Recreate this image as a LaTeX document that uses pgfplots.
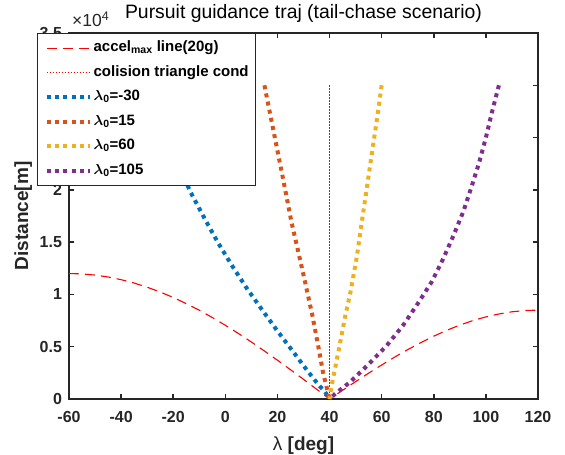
\documentclass[border=0pt]{standalone}
\usepackage{fontspec}
\setmainfont{Liberation Sans}
\usepackage{amsmath}
\usepackage{pgfplots}
\pgfplotsset{compat=1.18}
\definecolor{mblue}{rgb}{0,0.447,0.741}
\definecolor{morange}{rgb}{0.85,0.325,0.098}
\definecolor{myellow}{rgb}{0.929,0.694,0.125}
\definecolor{mpurple}{rgb}{0.494,0.184,0.556}
\definecolor{axgray}{rgb}{0.15,0.15,0.15}
\definecolor{mred}{rgb}{1,0,0}
\begin{document}
\begin{tikzpicture}
\begin{axis}[
  name=ax,
  scale only axis, width=469pt, height=366pt,
  at={(0,0)}, anchor=south west,
  xmin=-60, xmax=120, ymin=0, ymax=3.5,
  xtick={-60,-40,-20,0,20,40,60,80,100,120},
  ytick={0,0.5,1,1.5,2,2.5,3,3.5},
  tick align=inside, major tick length=5pt,
  axis line style={line width=1.5pt, axgray},
  every tick/.style={line width=1.5pt, axgray},
  ticklabel style={font=\fontsize{16}{16}\selectfont\bfseries, text=axgray},
  xticklabel style={yshift=-8.5pt},
  yticklabel style={xshift=-3.5pt},
  /pgf/number format/assume math mode=true,
  title={Pursuit guidance traj (tail-chase scenario)},
  title style={font=\fontsize{19.4}{19.4}\selectfont, text=black, anchor=base, at={(axis description cs:0.5,1)}, yshift=9pt},
  xlabel={{\mdseries λ} [deg]},
  ylabel={Distance[m]},
  xlabel style={font=\fontsize{19}{19}\selectfont\bfseries, text=axgray, at={(axis description cs:0.5,-0.1284)}, anchor=center},
  ylabel style={font=\fontsize{19}{19}\selectfont\bfseries, text=axgray, at={(axis description cs:-0.0974,0.5)}, anchor=center},
  legend style={at={(axis description cs:-0.0682,1)}, anchor=north west,
    draw=axgray, line width=1.2pt, fill=white,
    inner xsep=7pt, inner ysep=7pt, row sep=9.5pt, column sep=2pt,
    font=\fontsize{15}{15}\selectfont\bfseries,
    nodes={inner sep=0pt, text height=11pt, text depth=4pt},
    cells={anchor=west}},
  legend image code/.code={\draw[#1] (0pt,0pt) -- (43pt,0pt);},
]
\addplot[draw=mred, line width=1.1pt, dash pattern=on 10pt off 6pt] coordinates {
(-60,1.200) (-55,1.196) (-50,1.185) (-45,1.167) (-40,1.141) (-35,1.109) (-30,1.069)
(-25,1.023) (-20,0.971) (-15,0.912) (-10,0.849) (-5,0.779) (0,0.705) (5,0.627)
(10,0.545) (15,0.459) (20,0.371) (25,0.280) (30,0.188) (35,0.094) (40,0)
(45,0.083) (50,0.166) (55,0.247) (60,0.325) (65,0.401) (70,0.472) (75,0.539)
(80,0.601) (85,0.657) (90,0.707) (95,0.750) (100,0.785) (105,0.813) (110,0.834)
(115,0.846) (120,0.850)};
\addlegendentry{accel\textsubscript{max} line(20g)}
\addplot[draw=mred, line width=1.2pt, dash pattern=on 1.5pt off 1.5pt] coordinates {(40,0) (40,3.0)};
\addlegendentry{colision triangle cond}
\addplot[draw=mblue, line width=4pt, dash pattern=on 4pt off 4.3pt] coordinates {
(-30,3.0) (-25,2.68) (-20,2.37) (-13.6,1.99) (-7.4,1.70) (-2.7,1.49) (2.7,1.27)
(8.2,1.06) (13.9,0.86) (19.7,0.66) (25.8,0.46) (31.8,0.26) (35.8,0.134) (38.2,0.07) (40,0)};
\addlegendentry{$\boldsymbol{\lambda}$\textsubscript{0}=-30}
\addplot[draw=morange, line width=4pt, dash pattern=on 4pt off 4.3pt] coordinates {
(15,3.0) (18.6,2.55) (22.2,2.10) (25.4,1.69) (27.7,1.44) (30.6,1.12) (33.4,0.80)
(35.7,0.50) (37.6,0.24) (38.9,0.11) (40,0)};
\addlegendentry{$\boldsymbol{\lambda}$\textsubscript{0}=15}
\addplot[draw=myellow, line width=4pt, dash pattern=on 4pt off 4.3pt] coordinates {
(60,3.0) (58.1,2.66) (56.2,2.34) (54.2,2.00) (52.3,1.68) (50.4,1.35) (48.1,1.03)
(45.9,0.78) (44.0,0.53) (42.1,0.29) (40.8,0.13) (40,0)};
\addlegendentry{$\boldsymbol{\lambda}$\textsubscript{0}=60}
\addplot[draw=mpurple, line width=4pt, dash pattern=on 4pt off 4.3pt] coordinates {
(105,3.0) (102.4,2.75) (100.0,2.50) (97.4,2.26) (94.5,2.03) (91.3,1.79) (87.5,1.56)
(83.6,1.34) (79.2,1.12) (73.8,0.91) (68.1,0.70) (61.9,0.51) (54.9,0.33) (47.8,0.16)
(42.4,0.055) (40,0)};
\addlegendentry{$\boldsymbol{\lambda}$\textsubscript{0}=105}
\end{axis}
\node[anchor=base west, font=\fontsize{17.5}{17.5}\selectfont, text=axgray, inner sep=0pt]
  at ([xshift=3pt,yshift=6pt]ax.north west) {×10\raisebox{6.5pt}{\fontsize{12.5}{12.5}\selectfont 4}};
\pgfresetboundingbox
\path[use as bounding box] ([xshift=-69pt,yshift=-56pt]ax.south west) rectangle ([xshift=27pt,yshift=33pt]ax.north east);
\end{tikzpicture}
\end{document}
